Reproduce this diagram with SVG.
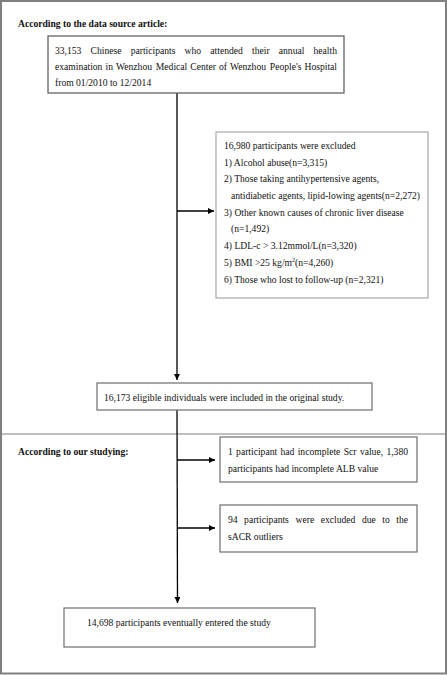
<svg xmlns="http://www.w3.org/2000/svg" width="447" height="675" viewBox="0 0 447 675">
<defs>
<style>
text{font-family:"Liberation Serif","Times New Roman",serif;font-size:9.6px;fill:#111}
.b{font-weight:bold}
.box{fill:#fff;stroke:#6e6e6e;stroke-width:1.2}
.lt{stroke:#a8a8a8}
.dk{stroke:#555}
.c{stroke:#000;stroke-width:1.3;fill:none}
</style>
<marker id="ah" viewBox="0 0 10 10" refX="10" refY="5" markerWidth="6" markerHeight="6" markerUnits="userSpaceOnUse" orient="auto"><path d="M0,0 L10,5 L0,10 z" fill="#000"/></marker>
</defs>
<rect x="0" y="0" width="447" height="675" fill="#fff"/>
<rect x="1" y="1" width="445" height="672.5" fill="none" stroke="#808080" stroke-width="2"/>
<line x1="1" y1="434" x2="446" y2="434" stroke="#808080" stroke-width="1.2"/>
<text class="b" x="18" y="27">According to the data source article:</text>
<text class="b" x="18" y="454.5">According to our studying:</text>
<g id="connectors">
<line class="c" x1="177" y1="93" x2="177" y2="380" marker-end="url(#ah)"/>
<line class="c" x1="177" y1="211" x2="214" y2="211" marker-end="url(#ah)"/>
<line class="c" x1="177" y1="410" x2="177.5" y2="603" marker-end="url(#ah)"/>
<line class="c" x1="177" y1="460" x2="215" y2="460" marker-end="url(#ah)"/>
<line class="c" x1="177" y1="528" x2="215" y2="528" marker-end="url(#ah)"/>
</g>
<g id="n1">
<rect class="box dk" x="48" y="36" width="296" height="57"/>
<text y="53.5"><tspan x="55">33,153</tspan><tspan x="90.6">Chinese</tspan><tspan x="130.7">participants</tspan><tspan x="184.6">who</tspan><tspan x="210.3">attended</tspan><tspan x="252">their</tspan><tspan x="278.8">annual</tspan><tspan x="337" text-anchor="end">health</tspan></text>
<text y="69.5"><tspan x="55">examination</tspan><tspan x="105.5">in</tspan><tspan x="116">Wenzhou</tspan><tspan x="155.8">Medical</tspan><tspan x="190.3">Center</tspan><tspan x="219">of</tspan><tspan x="230">Wenzhou</tspan><tspan x="269.8">People's</tspan><tspan x="337" text-anchor="end">Hospital</tspan></text>
<text x="55" y="85.5">from 01/2010 to 12/2014</text>
</g>
<g id="n2">
<rect class="box lt" x="216" y="132" width="212" height="166"/>
<text x="224" y="148.5">16,980 participants were excluded</text>
<text x="224" y="165.5">1) Alcohol abuse(n=3,315)</text>
<text x="224" y="182">2) Those taking antihypertensive agents,</text>
<text x="231" y="198.5">antidiabetic agents, lipid-lowing agents(n=2,272)</text>
<text x="224" y="215.5">3) Other known causes of chronic liver disease</text>
<text x="231" y="232">(n=1,492)</text>
<text x="224" y="248.5">4) LDL-c &gt; 3.12mmol/L(n=3,320)</text>
<text x="224" y="265.5">5) BMI &gt;25 kg/m<tspan font-size="6" dy="-3.5">2</tspan><tspan dy="3.5">(n=4,260)</tspan></text>
<text x="224" y="282.5">6) Those who lost to follow-up (n=2,321)</text>
</g>
<g id="n3">
<rect class="box" x="97" y="383" width="275" height="27"/>
<text x="104" y="400.5">16,173 eligible individuals were included in the original study.</text>
</g>
<g id="n4">
<rect class="box" x="220" y="437" width="197" height="45"/>
<text y="454.5"><tspan x="228">1</tspan><tspan x="236.1">participant</tspan><tspan x="280.5">had</tspan><tspan x="297.7">incomplete</tspan><tspan x="343.7">Scr</tspan><tspan x="359.9">value,</tspan><tspan x="408" text-anchor="end">1,380</tspan></text>
<text x="228" y="471.5">participants had incomplete ALB value</text>
</g>
<g id="n5">
<rect class="box" x="220" y="505" width="197" height="47"/>
<text y="522.5"><tspan x="228">94</tspan><tspan x="244.1">participants</tspan><tspan x="295.5">were</tspan><tspan x="320.7">excluded</tspan><tspan x="361.9">due</tspan><tspan x="382.3">to</tspan><tspan x="408" text-anchor="end">the</tspan></text>
<text x="228" y="539.5">sACR outliers</text>
</g>
<g id="n6">
<rect class="box" x="64" y="608" width="251" height="39"/>
<text x="87" y="625.5">14,698 participants eventually entered the study</text>
</g>
</svg>
